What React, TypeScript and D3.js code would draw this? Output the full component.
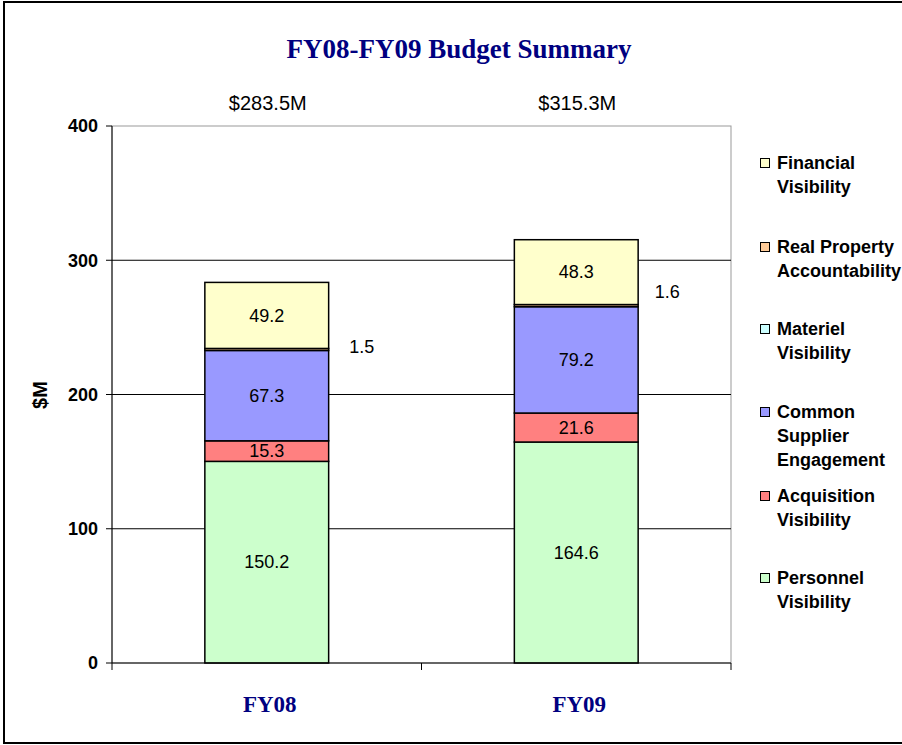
import React from "react";
import * as d3 from "d3";

const categories = ["FY08", "FY09"];
const seriesNames = [
  "Personnel Visibility",
  "Acquisition Visibility",
  "Common Supplier Engagement",
  "Materiel Visibility",
  "Real Property Accountability",
  "Financial Visibility",
];
const personnel = [150.2, 164.6];
const acquisition = [15.3, 21.6];
const commonSupplier = [67.3, 79.2];
const materiel = [0, 0];
const realProperty = [1.5, 1.6];
const financial = [49.2, 48.3];
const totals = ["$283.5M", "$315.3M"];
const yTicks = [0, 100, 200, 300, 400];

const legendLines = [
  ["Financial", "Visibility"],
  ["Real Property", "Accountability"],
  ["Materiel", "Visibility"],
  ["Common", "Supplier", "Engagement"],
  ["Acquisition", "Visibility"],
  ["Personnel", "Visibility"],
];
const colors = ["#CCFFCC", "#FF8080", "#9999FF", "#CCFFFF", "#FFCC99", "#FFFFCC"];

export default function App() {
  const W = 902, H = 745;
  const left = 112, right = 731, top = 126, bottom = 663;
  const x = d3.scaleBand().domain(categories).range([left, right]).paddingInner(0.6).paddingOuter(0.3);
  const y = d3.scaleLinear().domain([0, 400]).range([bottom, top]);
  const values = [personnel, acquisition, commonSupplier, materiel, realProperty, financial];
  const table = categories.map((c, i) => {
    const row: any = { cat: c };
    seriesNames.forEach((s, j) => (row[s] = values[j][i]));
    return row;
  });
  const stacked = d3.stack().keys(seriesNames)(table);
  const arial = "'Liberation Sans', Arial, sans-serif";
  const serif = "'Liberation Serif', 'Times New Roman', serif";
  const navy = "#000080";
  const smallLabelDy = [-3, -14];
  const smallLabelDx = [33, 29];
  const legendY = [163, 247, 329, 412, 496, 578];

  return (
    <svg width={W} height={H} style={{ position: "absolute", left: 0, top: 0 }}>
      <rect x={0} y={0} width={W} height={H} fill="#fff" />
      <rect x={4} y={2} width={W + 10} height={741} fill="none" stroke="#000" strokeWidth={2} />
      <text x={459} y={58} textAnchor="middle" fontFamily={serif} fontWeight="bold" fontSize={27} fill={navy}>
        FY08-FY09 Budget Summary
      </text>
      <rect x={left} y={top} width={right - left} height={bottom - top} fill="none" stroke="#999" strokeWidth={1} />
      {yTicks.filter((t) => t > 0 && t < 400).map((t) => (
        <line key={t} x1={left} x2={right} y1={y(t)} y2={y(t)} stroke="#000" strokeWidth={1} />
      ))}
      {stacked.map((layer, j) =>
        layer.map((d, i) => {
          const h = y(d[0]) - y(d[1]);
          if (h <= 0) return null;
          return (
            <rect key={j + "-" + i} x={x(categories[i])} y={y(d[1])} width={x.bandwidth()} height={h}
              fill={colors[j]} stroke="#000" strokeWidth={1.5} />
          );
        })
      )}
      {stacked.map((layer, j) =>
        layer.map((d, i) => {
          const v = values[j][i];
          if (v <= 0) return null;
          const cx = (x(categories[i]) as number) + x.bandwidth() / 2;
          const cy = (y(d[0]) + y(d[1])) / 2;
          if (v < 5) {
            return (
              <text key={"l" + j + i} x={(x(categories[i]) as number) + x.bandwidth() + smallLabelDx[i]} y={cy + smallLabelDy[i]}
                dy="0.35em" textAnchor="middle" fontFamily={arial} fontSize={18}>{v.toFixed(1)}</text>
            );
          }
          return (
            <text key={"l" + j + i} x={cx} y={cy} dy="0.35em" textAnchor="middle" fontFamily={arial} fontSize={18}>
              {v.toFixed(1)}
            </text>
          );
        })
      )}
      <line x1={left} x2={left} y1={top} y2={bottom} stroke="#000" strokeWidth={1} />
      <line x1={left} x2={right} y1={bottom} y2={bottom} stroke="#000" strokeWidth={1} />
      {yTicks.map((t) => (
        <g key={"yt" + t}>
          <line x1={left - 6} x2={left} y1={y(t)} y2={y(t)} stroke="#000" />
          <text x={left - 14} y={y(t)} dy="0.35em" textAnchor="end" fontFamily={arial} fontWeight="bold" fontSize={18}>
            {t}
          </text>
        </g>
      ))}
      {[left, (left + right) / 2, right].map((tx, i) => (
        <line key={"xt" + i} x1={tx} x2={tx} y1={bottom} y2={bottom + 7} stroke="#000" />
      ))}
      {categories.map((c, i) => {
        const cx = (x(c) as number) + x.bandwidth() / 2;
        return (
          <g key={"c" + c}>
            <text x={cx + 3} y={712} textAnchor="middle" fontFamily={serif} fontWeight="bold" fontSize={23} fill={navy}>{c}</text>
            <text x={cx + 1} y={110} textAnchor="middle" fontFamily={arial} fontSize={20}>{totals[i]}</text>
          </g>
        );
      })}
      <text transform={`translate(47,395) rotate(-90)`} textAnchor="middle" fontFamily={arial} fontWeight="bold" fontSize={20}>
        $M
      </text>
      {legendLines.map((lines, k) => {
        const j = seriesNames.length - 1 - k;
        const ly = legendY[k];
        return (
          <g key={"lg" + k}>
            <rect x={760.5} y={ly - 4.5} width={9} height={9} fill={colors[j]} stroke="#000" strokeWidth={1} />
            {lines.map((ln, m) => (
              <text key={m} x={777} y={ly + m * 24} dy="0.35em" fontFamily={arial} fontWeight="bold" fontSize={18}>
                {ln}
              </text>
            ))}
          </g>
        );
      })}
    </svg>
  );
}
